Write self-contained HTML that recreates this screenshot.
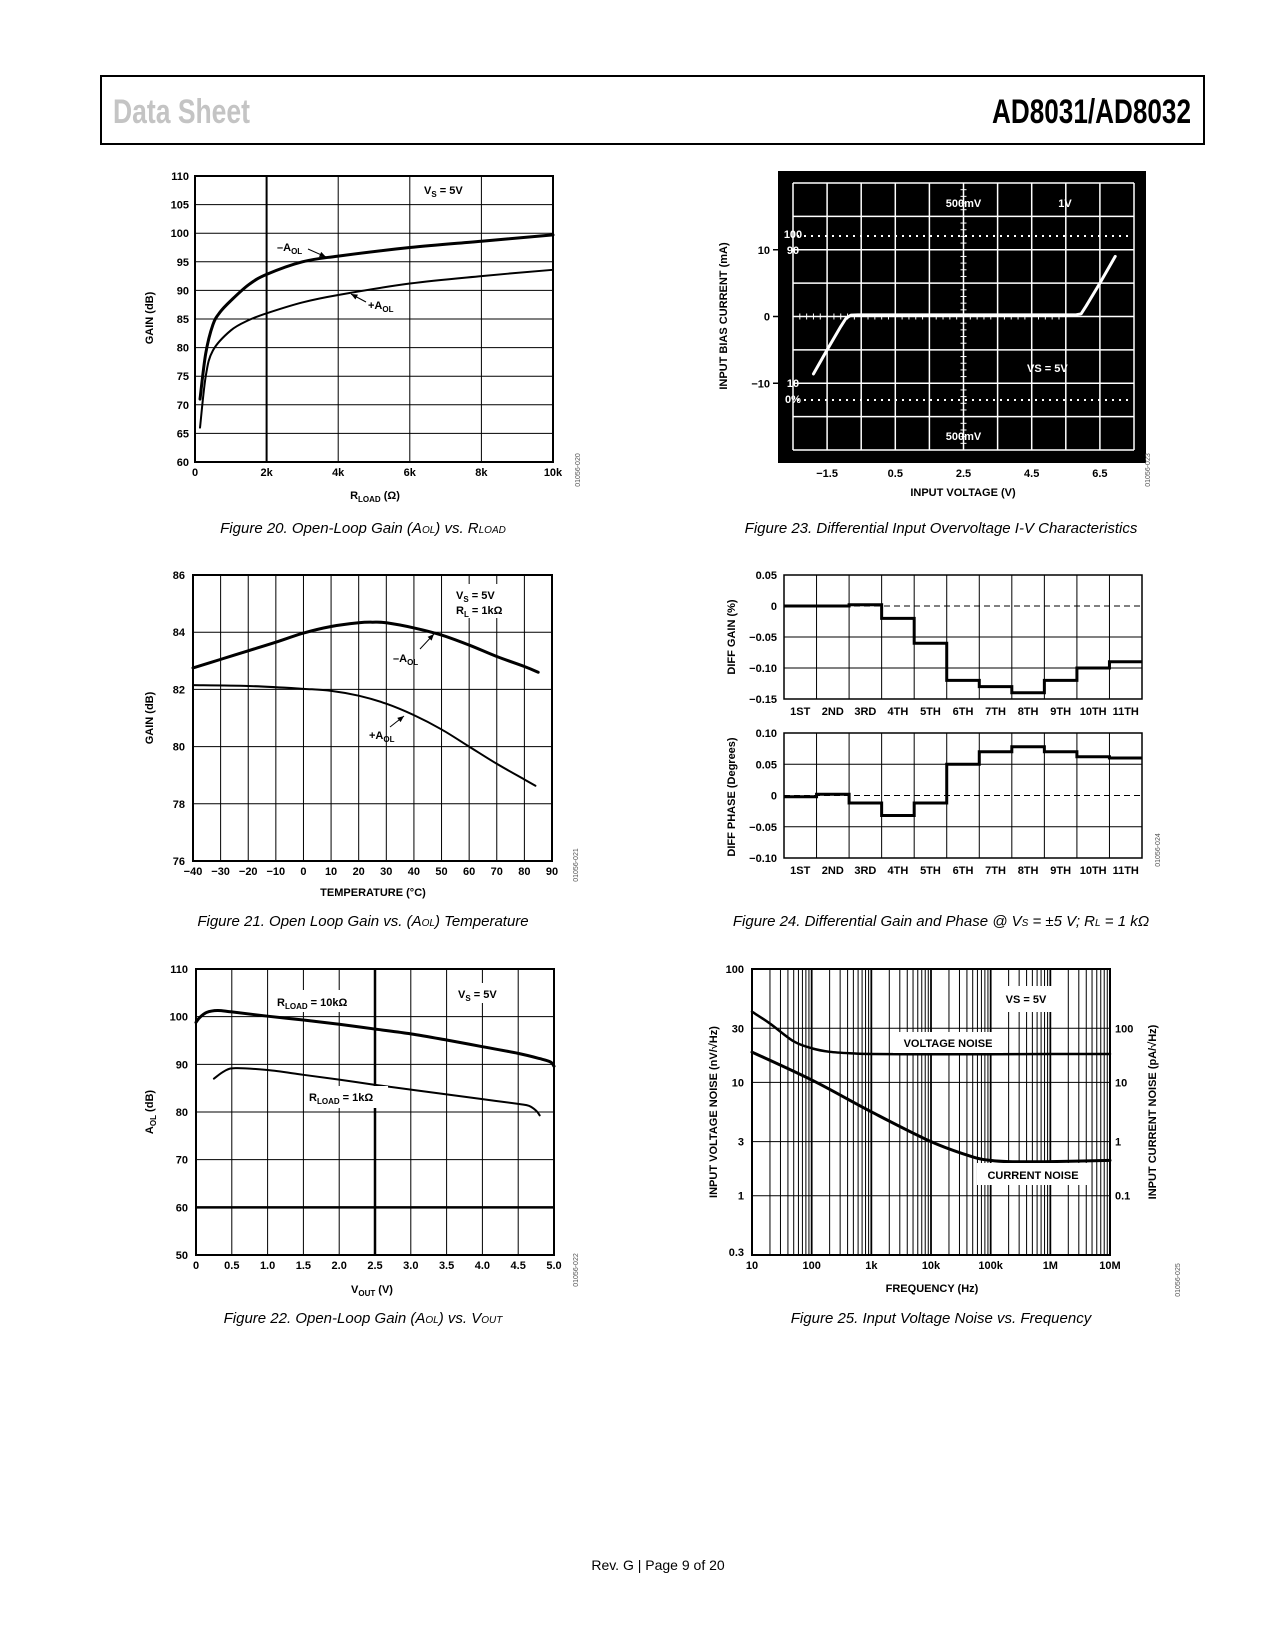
<!DOCTYPE html>
<html><head><meta charset="utf-8"><title>AD8031/AD8032 Data Sheet page 9</title>
<style>
html,body{margin:0;padding:0;background:#fff;}
svg{display:block;}
.t{font-family:"Liberation Sans",sans-serif;font-weight:bold;font-size:11px;fill:#000;}
.cap{font-family:"Liberation Sans Narrow","Liberation Sans",sans-serif;font-style:italic;font-size:15px;fill:#000;}
.w{fill:#fff;}
</style></head>
<body>
<svg id="page" width="1275" height="1650" viewBox="0 0 1275 1650" xmlns="http://www.w3.org/2000/svg">
<rect x="101" y="76" width="1103" height="68" fill="#fff" stroke="#000" stroke-width="2"/>
<text x="113" y="123" font-family="Liberation Sans Narrow, Liberation Sans, sans-serif" font-weight="bold" font-size="34" fill="#c4c4c4" textLength="137" lengthAdjust="spacingAndGlyphs">Data Sheet</text>
<text x="992" y="123" font-family="Liberation Sans Narrow, Liberation Sans, sans-serif" font-weight="bold" font-size="34" fill="#000" textLength="199" lengthAdjust="spacingAndGlyphs">AD8031/AD8032</text>

<g id="c1"></g>
<g id="c2"></g>
<g id="c3"></g>
<g id="c4"></g>
<g id="c5"></g>
<g id="c6"></g>

<text class="t" x="153" y="318" text-anchor="middle" transform="rotate(-90 153 318)">GAIN (dB)</text>
<text class="t" x="375" y="499" text-anchor="middle">R<tspan font-size="8" dy="3">LOAD</tspan><tspan dy="-3"> (Ω)</tspan></text>
<rect x="418" y="178" width="58" height="20" fill="#fff"/>
<text class="t" x="424" y="194">V<tspan font-size="8" dy="3">S</tspan><tspan dy="-3"> = 5V</tspan></text>
<text class="t" x="277" y="251">–A<tspan font-size="8" dy="3">OL</tspan></text>
<text class="t" x="368" y="309">+A<tspan font-size="8" dy="3">OL</tspan></text>
<text x="580" y="470" font-family="Liberation Sans,sans-serif" font-size="7" fill="#555" transform="rotate(-90 580 470)" text-anchor="middle">01056-020</text>
<text class="cap" x="363" y="533" text-anchor="middle">Figure 20. Open-Loop Gain (A<tspan font-size="10">OL</tspan>) vs. R<tspan font-size="10">LOAD</tspan></text>

<text class="t" x="727" y="316" text-anchor="middle" transform="rotate(-90 727 316)">INPUT BIAS CURRENT (mA)</text>
<text class="t" x="963" y="496" text-anchor="middle">INPUT VOLTAGE (V)</text>
<text x="1150" y="470" font-family="Liberation Sans,sans-serif" font-size="7" fill="#555" transform="rotate(-90 1150 470)" text-anchor="middle">01056-023</text>
<text class="cap" x="941" y="533" text-anchor="middle">Figure 23. Differential Input Overvoltage I-V Characteristics</text>

<text class="t" x="153" y="718" text-anchor="middle" transform="rotate(-90 153 718)">GAIN (dB)</text>
<text class="t" x="373" y="896" text-anchor="middle">TEMPERATURE (°C)</text>
<rect x="450" y="584" width="62" height="34" fill="#fff"/>
<text class="t" x="456" y="599">V<tspan font-size="8" dy="3">S</tspan><tspan dy="-3"> = 5V</tspan></text>
<text class="t" x="456" y="614">R<tspan font-size="8" dy="3">L</tspan><tspan dy="-3"> = 1kΩ</tspan></text>
<text class="t" x="393" y="662">–A<tspan font-size="8" dy="3">OL</tspan></text>
<text class="t" x="369" y="739">+A<tspan font-size="8" dy="3">OL</tspan></text>
<text x="578" y="865" font-family="Liberation Sans,sans-serif" font-size="7" fill="#555" transform="rotate(-90 578 865)" text-anchor="middle">01056-021</text>
<text class="cap" x="363" y="926" text-anchor="middle">Figure 21. Open Loop Gain vs. (A<tspan font-size="10">OL</tspan>) Temperature</text>

<text class="t" x="735" y="637" text-anchor="middle" transform="rotate(-90 735 637)">DIFF GAIN (%)</text>
<text class="t" x="735" y="797" text-anchor="middle" transform="rotate(-90 735 797)">DIFF PHASE (Degrees)</text>
<text x="1160" y="850" font-family="Liberation Sans,sans-serif" font-size="7" fill="#555" transform="rotate(-90 1160 850)" text-anchor="middle">01056-024</text>
<text class="cap" x="941" y="926" text-anchor="middle">Figure 24. Differential Gain and Phase @ V<tspan font-size="10">S</tspan> = ±5 V; R<tspan font-size="10">L</tspan> = 1 kΩ</text>

<text class="t" x="153" y="1112" text-anchor="middle" transform="rotate(-90 153 1112)">A<tspan font-size="8" dy="3">OL</tspan><tspan dy="-3"> (dB)</tspan></text>
<text class="t" x="372" y="1293" text-anchor="middle">V<tspan font-size="8" dy="3">OUT</tspan><tspan dy="-3"> (V)</tspan></text>
<rect x="274" y="990" width="92" height="22" fill="#fff"/>
<text class="t" x="277" y="1006">R<tspan font-size="8" dy="3">LOAD</tspan><tspan dy="-3"> = 10kΩ</tspan></text>
<rect x="306" y="1086" width="82" height="22" fill="#fff"/>
<text class="t" x="309" y="1101">R<tspan font-size="8" dy="3">LOAD</tspan><tspan dy="-3"> = 1kΩ</tspan></text>
<rect x="452" y="983" width="56" height="20" fill="#fff"/>
<text class="t" x="458" y="998">V<tspan font-size="8" dy="3">S</tspan><tspan dy="-3"> = 5V</tspan></text>
<text x="578" y="1270" font-family="Liberation Sans,sans-serif" font-size="7" fill="#555" transform="rotate(-90 578 1270)" text-anchor="middle">01056-022</text>
<text class="cap" x="363" y="1323" text-anchor="middle">Figure 22. Open-Loop Gain (A<tspan font-size="10">OL</tspan>) vs. V<tspan font-size="10">OUT</tspan></text>

<text class="t" x="717" y="1112" text-anchor="middle" transform="rotate(-90 717 1112)">INPUT VOLTAGE NOISE (nV/√Hz)</text>
<text class="t" x="1156" y="1112" text-anchor="middle" transform="rotate(-90 1156 1112)">INPUT CURRENT NOISE (pA/√Hz)</text>
<text class="t" x="932" y="1292" text-anchor="middle">FREQUENCY (Hz)</text>
<text x="1180" y="1280" font-family="Liberation Sans,sans-serif" font-size="7" fill="#555" transform="rotate(-90 1180 1280)" text-anchor="middle">01056-025</text>
<text class="cap" x="941" y="1323" text-anchor="middle">Figure 25. Input Voltage Noise vs. Frequency</text>

<text x="658" y="1570" text-anchor="middle" font-family="Liberation Sans Narrow, Liberation Sans, sans-serif" font-size="14" fill="#000">Rev. G | Page 9 of 20</text>
</svg>

<script>
const f20R = [140, 300, 500, 700, 1000, 1500, 2000, 3000, 4000, 6000, 8000, 10000];
const f20Neg = [71, 79, 84, 86.2, 88.2, 91, 92.8, 95, 96, 97.5, 98.6, 99.7];
const f20PosR = [140, 300, 500, 1000, 1500, 2000, 3000, 4000, 6000, 8000, 10000];
const f20Pos = [66, 75, 79.5, 83, 84.8, 86, 87.9, 89.2, 91.2, 92.5, 93.6];
const f20XTicks = ['0', '2k', '4k', '6k', '8k', '10k'];
const f20YTicks = [60, 65, 70, 75, 80, 85, 90, 95, 100, 105, 110];
const f23V = [-1.9, -1.5, -1.1, -0.95, -0.8, -0.6, 5.8, 5.95, 6.1, 6.5, 6.95];
const f23I = [-8.6, -5, -1.5, -0.3, 0.2, 0.25, 0.25, 0.4, 1.6, 5, 9];
const f23XTicks = ['−1.5', '0.5', '2.5', '4.5', '6.5'];
const f23XTickVals = [-1.5, 0.5, 2.5, 4.5, 6.5];
const f23YTicks = ['10', '0', '−10'];
const f23YTickVals = [10, 0, -10];
const f21T = [-40, -30, -20, -10, 0, 10, 20, 25, 30, 40, 50, 60, 70, 80, 85];
const f21Neg = [82.75, 83.05, 83.35, 83.65, 83.97, 84.2, 84.33, 84.35, 84.33, 84.15, 83.9, 83.55, 83.15, 82.8, 82.6];
const f21PosT = [-40, -20, 0, 10, 20, 30, 40, 50, 60, 70, 80, 84];
const f21Pos = [82.15, 82.12, 82.02, 81.95, 81.78, 81.5, 81.1, 80.6, 80.0, 79.4, 78.85, 78.63];
const f21XTicks = [-40, -30, -20, -10, 0, 10, 20, 30, 40, 50, 60, 70, 80, 90];
const f21YTicks = [76, 78, 80, 82, 84, 86];
const f24Cats = ['1ST', '2ND', '3RD', '4TH', '5TH', '6TH', '7TH', '8TH', '9TH', '10TH', '11TH'];
const f24Gain = [0, 0, 0.002, -0.02, -0.06, -0.12, -0.13, -0.14, -0.12, -0.10, -0.09];
const f24Phase = [-0.002, 0.002, -0.012, -0.032, -0.012, 0.05, 0.07, 0.078, 0.07, 0.062, 0.06];
const f24GainTicks = ['0.05', '0', '−0.05', '−0.10', '−0.15'];
const f24GainTickVals = [0.05, 0, -0.05, -0.10, -0.15];
const f24PhaseTicks = ['0.10', '0.05', '0', '−0.05', '−0.10'];
const f24PhaseTickVals = [0.10, 0.05, 0, -0.05, -0.10];
const f22V10k = [0, 0.05, 0.15, 0.3, 0.5, 1.0, 1.5, 2.0, 2.5, 3.0, 3.5, 4.0, 4.5, 4.8, 4.95, 5.0];
const f22A10k = [98.8, 99.8, 100.9, 101.3, 101.0, 100.1, 99.3, 98.4, 97.4, 96.4, 95.1, 93.7, 92.3, 91.2, 90.5, 89.6];
const f22V1k = [0.25, 0.4, 0.55, 1.0, 1.5, 2.0, 2.5, 3.0, 3.5, 4.0, 4.5, 4.65, 4.75, 4.8];
const f22A1k = [87, 88.6, 89.2, 88.8, 87.8, 86.8, 85.7, 84.7, 83.7, 82.7, 81.7, 81.3, 80.3, 79.3];
const f22XTicks = ['0', '0.5', '1.0', '1.5', '2.0', '2.5', '3.0', '3.5', '4.0', '4.5', '5.0'];
const f22YTicks = [50, 60, 70, 80, 90, 100, 110];
const f25Freq = [10, 20, 50, 100, 200, 500, 1000, 1e4, 1e5, 1e6, 1e7];
const f25Vn = [42, 33, 23, 20, 18.6, 18, 17.8, 17.7, 17.7, 17.8, 17.8];
const f25FreqI = [10, 100, 1000, 1e4, 5e4, 1e5, 2e5, 1e6, 1e7];
const f25In = [18.5, 10.5, 5.5, 3.0, 2.2, 2.05, 2.0, 2.0, 2.05];
const f25XTicks = ['10', '100', '1k', '10k', '100k', '1M', '10M'];
const f25YTicks = ['100', '30', '10', '3', '1', '0.3'];
const f25YTickVals = [100, 30, 10, 3, 1, 0.3];
const f25RTicks = ['100', '10', '1', '0.1'];
const f25RTickVals = [30, 10, 3, 1];

const NS = 'http://www.w3.org/2000/svg';
function mk(tag, attrs, parent) {
  const e = document.createElementNS(NS, tag);
  for (const k in attrs) e.setAttribute(k, attrs[k]);
  parent.appendChild(e);
  return e;
}
function smooth(pts) {
  let d = 'M' + pts[0][0].toFixed(2) + ',' + pts[0][1].toFixed(2);
  for (let i = 0; i < pts.length - 1; i++) {
    const p0 = pts[Math.max(0, i - 1)], p1 = pts[i], p2 = pts[i + 1], p3 = pts[Math.min(pts.length - 1, i + 2)];
    const c1x = p1[0] + (p2[0] - p0[0]) / 6, c1y = p1[1] + (p2[1] - p0[1]) / 6;
    const c2x = p2[0] - (p3[0] - p1[0]) / 6, c2y = p2[1] - (p3[1] - p1[1]) / 6;
    d += ' C' + c1x.toFixed(2) + ',' + c1y.toFixed(2) + ' ' + c2x.toFixed(2) + ',' + c2y.toFixed(2) + ' ' + p2[0].toFixed(2) + ',' + p2[1].toFixed(2);
  }
  return d;
}
function straight(pts) {
  return pts.map((p, i) => (i ? 'L' : 'M') + p[0].toFixed(2) + ',' + p[1].toFixed(2)).join(' ');
}
function line(g, x1, y1, x2, y2, w, color, name) {
  const e = mk('line', {x1: x1, y1: y1, x2: x2, y2: y2, stroke: color || '#000', 'stroke-width': w || 1}, g);
  
  
  return e;
}
function label(g, x, y, s, anchor, name, cls) {
  const e = mk('text', {x: x, y: y, 'text-anchor': anchor, class: cls || 't'}, g);
  e.textContent = s;
  
  
  return e;
}
function curve(g, pts, w, color, name, flat) {
  const e = mk('path', {d: flat ? straight(pts) : smooth(pts), fill: 'none', stroke: color || '#000', 'stroke-width': w, 'stroke-linecap': 'round', 'stroke-linejoin': 'round'}, g);
  
  
  return e;
}
function arrow(g, x1, y1, x2, y2, name) {
  line(g, x1, y1, x2, y2, 1, '#000', name);
  const a = Math.atan2(y2 - y1, x2 - x1), L = 7, s = 0.4;
  const p = mk('polygon', {points: x2 + ',' + y2 + ' ' + (x2 - L * Math.cos(a - s)) + ',' + (y2 - L * Math.sin(a - s)) + ' ' + (x2 - L * Math.cos(a + s)) + ',' + (y2 - L * Math.sin(a + s)), fill: '#000'}, g);
  
  
}

(function () {
  const g = document.getElementById('c1');
  const L = 195, R = 553, T = 176, B = 462;
  const x = v => L + v / 10000 * (R - L);
  const y = v => B - (v - 60) / 50 * (B - T);
  f20YTicks.forEach(v => { line(g, L, y(v), R, y(v), 1, '#000', 'fig20-h-grid'); label(g, L - 6, y(v) + 4, String(v), 'end', 'fig20-y-tick'); });
  f20XTicks.forEach((s, i) => { const xv = x(i * 2000); line(g, xv, T, xv, B, i === 1 ? 2 : 1, '#000', 'fig20-v-grid'); label(g, xv, B + 14, s, 'middle', 'fig20-x-tick'); });
  const fr = mk('rect', {x: L, y: T, width: R - L, height: B - T, fill: 'none', stroke: '#000', 'stroke-width': 2}, g);
  
  
  curve(g, f20R.map((r, i) => [x(r), y(f20Neg[i])]), 3, '#000', 'fig20-neg-aol-curve');
  curve(g, f20PosR.map((r, i) => [x(r), y(f20Pos[i])]), 2, '#000', 'fig20-pos-aol-curve');
  arrow(g, 308, 249, 326, 257, 'fig20-neg-arrow');
  arrow(g, 366, 302, 351, 294, 'fig20-pos-arrow');
})();

(function () {
  const g = document.getElementById('c2');
  const bg = mk('rect', {x: 778, y: 171, width: 368, height: 292, fill: '#000'}, g);
  
  
  const L = 793, R = 1134, T = 183, B = 450;
  const dx = (R - L) / 10, dy = (B - T) / 8;
  const cx = L + 5 * dx, cy = T + 4 * dy;
  const x = v => cx + (v - 2.5) * dx;
  const y = v => cy - v / 5 * dy;
  for (let i = 0; i <= 10; i++) line(g, L + i * dx, T, L + i * dx, B, 1.5, '#fff', 'fig23-v-grid');
  for (let j = 0; j <= 8; j++) line(g, L, T + j * dy, R, T + j * dy, 1.5, '#fff', 'fig23-h-grid');
  for (let k = 0; k <= 40; k++) { const tx = L + k * dx / 5; line(g, tx, cy - 3, tx, cy + 3, 1, '#fff', 'fig23-h-axis-tick'); }
  for (let k = 0; k <= 40; k++) { const ty = T + k * dy / 5; line(g, cx - 3, ty, cx + 3, ty, 1, '#fff', 'fig23-v-axis-tick'); }
  [236, 400].forEach(yy => {
    const d = mk('line', {x1: L + 4, y1: yy, x2: R - 2, y2: yy, stroke: '#fff', 'stroke-width': 2, 'stroke-dasharray': '2,5'}, g);
    
    
  });
  curve(g, f23V.map((v, i) => [x(v), y(f23I[i])]), 3, '#fff', 'fig23-iv-curve', true);
  f23XTickVals.forEach((v, i) => label(g, x(v), 477, f23XTicks[i], 'middle', 'fig23-x-tick'));
  f23YTickVals.forEach((v, i) => { label(g, 770, y(v) + 4, f23YTicks[i], 'end', 'fig23-y-tick'); line(g, 773, y(v), 790, y(v), 1.5, '#000', 'fig23-y-tick-mark'); });
  const t1 = label(g, cx, 207, '500mV', 'middle', 'fig23-top-scale-label'); t1.setAttribute('class', 't w');
  const t2 = label(g, 1065, 207, '1V', 'middle', 'fig23-time-scale-label'); t2.setAttribute('class', 't w');
  const t3 = label(g, cx, 440, '500mV', 'middle', 'fig23-bottom-scale-label'); t3.setAttribute('class', 't w');
  const t4 = label(g, 1027, 372, 'VS = 5V', 'start', 'fig23-vs-label'); t4.setAttribute('class', 't w');
  [['100', 238], ['90', 254], ['10', 387], ['0%', 403]].forEach(p => { const e = label(g, 793, p[1], p[0], 'middle', 'fig23-graticule-label'); e.setAttribute('class', 't w'); e.setAttribute('font-size', '9'); });
})();

(function () {
  const g = document.getElementById('c3');
  const L = 193, R = 552, T = 575, B = 861;
  const x = v => L + (v + 40) / 130 * (R - L);
  const y = v => B - (v - 76) / 10 * (B - T);
  f21YTicks.forEach(v => { line(g, L, y(v), R, y(v), 1, '#000', 'fig21-h-grid'); label(g, L - 8, y(v) + 4, String(v), 'end', 'fig21-y-tick'); });
  f21XTicks.forEach(v => { line(g, x(v), T, x(v), B, 1, '#000', 'fig21-v-grid'); label(g, x(v), B + 14, v < 0 ? '−' + Math.abs(v) : String(v), 'middle', 'fig21-x-tick'); });
  const fr = mk('rect', {x: L, y: T, width: R - L, height: B - T, fill: 'none', stroke: '#000', 'stroke-width': 2}, g);
  
  
  curve(g, f21T.map((t, i) => [x(t), y(f21Neg[i])]), 3, '#000', 'fig21-neg-aol-curve');
  curve(g, f21PosT.map((t, i) => [x(t), y(f21Pos[i])]), 2, '#000', 'fig21-pos-aol-curve');
  arrow(g, 420, 649, 434, 634, 'fig21-neg-arrow');
  arrow(g, 390, 727, 404, 716, 'fig21-pos-arrow');
})();

(function () {
  const g = document.getElementById('c4');
  const L = 784, R = 1142, n = f24Cats.length, cw = (R - L) / n;
  function panel(T, B, vals, ticks, tickVals, vmin, vmax, nm, lblY) {
    const y = v => B - (v - vmin) / (vmax - vmin) * (B - T);
    tickVals.forEach((v, i) => { if (v !== 0) line(g, L, y(v), R, y(v), 1, '#000', nm + '-h-grid'); label(g, L - 7, y(v) + 4, ticks[i], 'end', nm + '-y-tick'); });
    for (let i = 1; i < n; i++) line(g, L + i * cw, T, L + i * cw, B, 1, '#000', nm + '-v-grid');
    const z = mk('line', {x1: L, y1: y(0), x2: R, y2: y(0), stroke: '#000', 'stroke-width': 1, 'stroke-dasharray': '6,4'}, g);
    
    
    const fr = mk('rect', {x: L, y: T, width: R - L, height: B - T, fill: 'none', stroke: '#000', 'stroke-width': 1.5}, g);
    
    
    let d = '';
    vals.forEach((v, i) => { d += (i === 0 ? 'M' : 'L') + (L + i * cw) + ',' + y(v) + ' L' + (L + (i + 1) * cw) + ',' + y(v) + ' '; });
    const p = mk('path', {d: d, fill: 'none', stroke: '#000', 'stroke-width': 3}, g);
    
    
    f24Cats.forEach((c, i) => label(g, L + (i + 0.5) * cw, lblY, c, 'middle', nm + '-category-label'));
  }
  panel(575, 699, f24Gain, f24GainTicks, f24GainTickVals, -0.15, 0.05, 'fig24-gain', 715);
  panel(733, 858, f24Phase, f24PhaseTicks, f24PhaseTickVals, -0.10, 0.10, 'fig24-phase', 874);
})();

(function () {
  const g = document.getElementById('c5');
  const L = 196, R = 554, T = 969, B = 1255;
  const x = v => L + v / 5 * (R - L);
  const y = v => B - (v - 50) / 60 * (B - T);
  f22YTicks.forEach(v => { line(g, L, y(v), R, y(v), v === 60 ? 2.5 : 1, '#000', 'fig22-h-grid'); label(g, L - 8, y(v) + 4, String(v), 'end', 'fig22-y-tick'); });
  f22XTicks.forEach((s, i) => { const xv = x(i * 0.5); line(g, xv, T, xv, B, i === 5 ? 2.5 : 1, '#000', 'fig22-v-grid'); label(g, xv, B + 14, s, 'middle', 'fig22-x-tick'); });
  const fr = mk('rect', {x: L, y: T, width: R - L, height: B - T, fill: 'none', stroke: '#000', 'stroke-width': 2}, g);
  
  
  curve(g, f22V10k.map((v, i) => [x(v), y(f22A10k[i])]), 3, '#000', 'fig22-10k-curve');
  curve(g, f22V1k.map((v, i) => [x(v), y(f22A1k[i])]), 2, '#000', 'fig22-1k-curve');
})();

(function () {
  const g = document.getElementById('c6');
  const L = 752, R = 1110, T = 969, B = 1255;
  const x = f => L + Math.log10(f / 10) * (R - L) / 6;
  const y = v => B - Math.log10(v / 0.3) * (B - T) / Math.log10(100 / 0.3);
  for (let d = 10; d < 1e7; d *= 10) {
    for (let m = 1; m <= 9; m++) line(g, x(m * d), T, x(m * d), B, m === 1 ? 1.8 : 1, '#000', 'fig25-v-grid');
  }
  line(g, x(1e7), T, x(1e7), B, 1.8, '#000', 'fig25-v-grid');
  f25YTickVals.forEach((v, i) => { line(g, L, y(v), R, y(v), 1, '#000', 'fig25-h-grid'); label(g, L - 8, y(v) + 4 - (v === 0.3 ? 3 : 0), f25YTicks[i], 'end', 'fig25-left-y-tick'); });
  f25RTickVals.forEach((v, i) => label(g, R + 5, y(v) + 4, f25RTicks[i], 'start', 'fig25-right-y-tick'));
  f25XTicks.forEach((s, i) => label(g, x(10 * Math.pow(10, i)), B + 14, s, 'middle', 'fig25-x-tick'));
  const fr = mk('rect', {x: L, y: T, width: R - L, height: B - T, fill: 'none', stroke: '#000', 'stroke-width': 2}, g);
  
  
  curve(g, f25Freq.map((f, i) => [x(f), y(f25Vn[i])]), 2.5, '#000', 'fig25-voltage-noise-curve');
  curve(g, f25FreqI.map((f, i) => [x(f), y(f25In[i])]), 3, '#000', 'fig25-current-noise-curve');
  [[893, 1032, 110, 21, 'VOLTAGE NOISE', 948, 1047, 'fig25-voltage-noise-label'], [977, 1163, 110, 22, 'CURRENT NOISE', 1033, 1179, 'fig25-current-noise-label'], [1000, 986, 52, 26, 'VS = 5V', 1026, 1003, 'fig25-vs-label']].forEach(a => {
    const r = mk('rect', {x: a[0], y: a[1], width: a[2], height: a[3], fill: '#fff'}, g);
    
    
    label(g, a[5], a[6], a[4], 'middle', a[7]);
  });
})();
</script>
</body></html>
